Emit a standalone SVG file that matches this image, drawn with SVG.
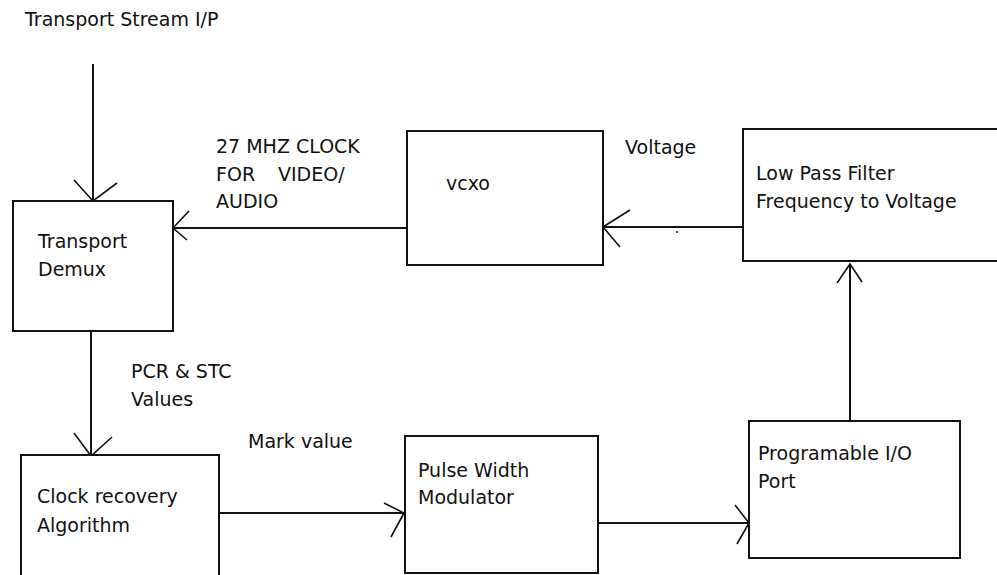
<svg xmlns="http://www.w3.org/2000/svg" width="997" height="575" viewBox="0 0 997 575">
<style>
text{font-family:"DejaVu Sans","Liberation Sans",sans-serif;font-size:19px;fill:#111}
.box{fill:#fff;stroke:#111;stroke-width:2}
.ln{fill:none;stroke:#111;stroke-width:2}
.hd{fill:none;stroke:#111;stroke-width:1.6}
</style>
<rect width="997" height="575" fill="#fff"/>
<g id="connectors">
<line class="ln" x1="93" y1="64" x2="93" y2="201"/>
<polyline class="hd" points="74,180 93,201 117,183"/>
<line class="ln" x1="407" y1="228" x2="173" y2="228"/>
<polyline class="hd" points="189,211 173,228 187,240"/>
<line class="ln" x1="743" y1="227" x2="603" y2="227"/>
<polyline class="hd" points="630,210 603,227 620,247"/>
<circle cx="677" cy="232" r="1" fill="#111"/>
<line class="ln" x1="850" y1="421" x2="850" y2="264"/>
<polyline class="hd" points="837,283 850,264 862,282"/>
<line class="ln" x1="91" y1="331" x2="91" y2="456"/>
<polyline class="hd" points="74,433 91,456 112,437"/>
<line class="ln" x1="219" y1="513" x2="405" y2="513"/>
<polyline class="hd" points="384,503 404,513 391,537"/>
<line class="ln" x1="598" y1="523" x2="749" y2="523"/>
<polyline class="hd" points="735,505 749,523 737,544"/>
</g>
<g id="labels">
<text x="25" y="26">Transport Stream I/P</text>
<text x="216" y="153">27 MHZ CLOCK</text>
<text x="216" y="181">FOR</text>
<text x="278" y="181">VIDEO/</text>
<text x="216" y="208">AUDIO</text>
<text x="625" y="154">Voltage</text>
<text x="131" y="378">PCR &amp; STC</text>
<text x="131" y="406">Values</text>
<text x="248" y="448">Mark value</text>
</g>
<g id="transport-demux">
<rect class="box" x="13" y="201" width="160" height="130"/>
<text x="38" y="248">Transport</text>
<text x="38" y="276">Demux</text>
</g>
<g id="vcxo">
<rect class="box" x="407" y="131" width="196" height="134"/>
<text x="446" y="190">vcxo</text>
</g>
<g id="low-pass-filter">
<rect class="box" x="743" y="129" width="270" height="132"/>
<text x="756" y="180">Low Pass Filter</text>
<text x="756" y="208">Frequency to Voltage</text>
</g>
<g id="programable-io">
<rect class="box" x="749" y="421" width="211" height="137"/>
<text x="758" y="460">Programable I/O</text>
<text x="758" y="488">Port</text>
</g>
<g id="clock-recovery">
<rect class="box" x="21" y="455" width="198" height="140"/>
<text x="37" y="503">Clock recovery</text>
<text x="37" y="532">Algorithm</text>
</g>
<g id="pwm">
<rect class="box" x="405" y="436" width="193" height="137"/>
<text x="418" y="477">Pulse Width</text>
<text x="418" y="504">Modulator</text>
</g>
</svg>
